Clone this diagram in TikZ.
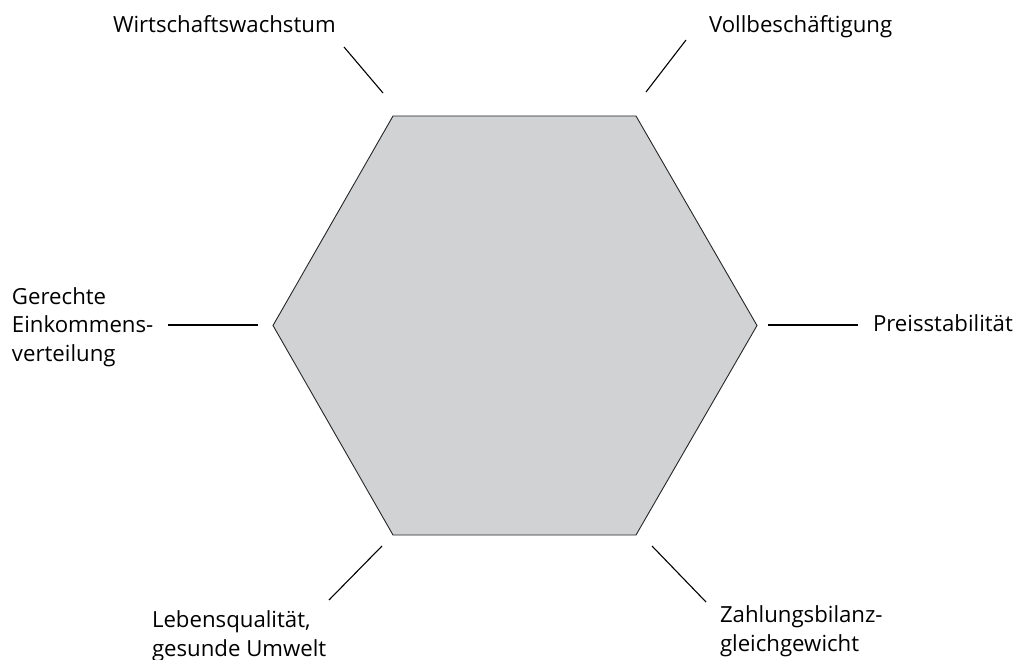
\documentclass[tikz,border=0pt]{standalone}
\usepackage{fontspec}
\setmainfont{Open Sans}
\begin{document}
\begin{tikzpicture}[x=1pt,y=-1pt,
  lbl/.style={inner sep=0pt,outer sep=0pt,align=left,anchor=base west,
    font=\fontsize{22.2}{28.5}\selectfont},
  conn/.style={line width=1.1pt,draw=black},
  hexfill/.style={fill=hexgray,draw=black!85,line width=0.9pt,line join=miter}]
\definecolor{hexgray}{HTML}{D1D2D4}
\useasboundingbox (0,0) rectangle (1017,660);
% hexagon corners
\coordinate (h1) at (393,116);
\coordinate (h2) at (636,116);
\coordinate (h3) at (757,325.5);
\coordinate (h4) at (636,535);
\coordinate (h5) at (393,535);
\coordinate (h6) at (273,325.5);
\draw[hexfill] (h1) -- (h2) -- (h3) -- (h4) -- (h5) -- (h6) -- cycle;
% labels (base = baseline of last line)
\node[lbl] (ww) at (113,33) {Wirtschaftswachstum};
\node[lbl] (vb) at (709,33) {Vollbeschäftigung};
\node[lbl] (ge) at (12,361) {Gerechte\\Einkommens-\\verteilung};
\node[lbl] (ps) at (873,331) {Preisstabilität};
\node[lbl] (lq) at (152,656) {Lebensqualität,\\gesunde Umwelt};
\node[lbl] (zb) at (720,651) {Zahlungsbilanz-\\gleichgewicht};
% connector ends
\coordinate (ww1) at (344,47);  \coordinate (ww2) at (383,93);
\coordinate (vb1) at (686,40);  \coordinate (vb2) at (646,92);
\coordinate (ge1) at (168,325); \coordinate (ge2) at (258,325);
\coordinate (ps1) at (768,325); \coordinate (ps2) at (858,325);
\coordinate (lq1) at (382,546); \coordinate (lq2) at (329,600);
\coordinate (zb1) at (652,546); \coordinate (zb2) at (706,602);
\draw[conn] (ww1) -- (ww2);
\draw[conn] (vb1) -- (vb2);
\draw[conn] (ge1) -- (ge2);
\draw[conn] (ps1) -- (ps2);
\draw[conn] (lq1) -- (lq2);
\draw[conn] (zb1) -- (zb2);
\end{tikzpicture}
\end{document}
